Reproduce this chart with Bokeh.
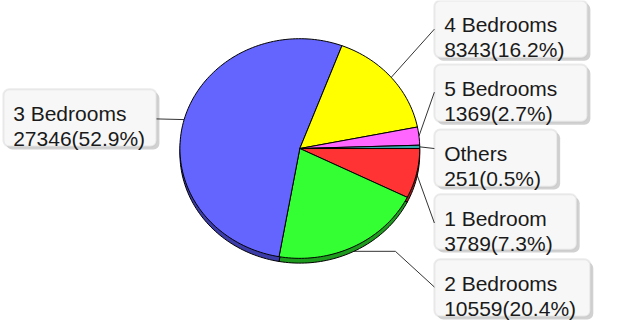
import numpy as np
from bokeh.plotting import figure
from bokeh.models import Range1d, BoxAnnotation
from bokeh.core.properties import value
from bokeh.embed import file_html
from bokeh.resources import INLINE

# ---- data ----
categories = ["1 Bedroom", "2 Bedrooms", "3 Bedrooms", "4 Bedrooms", "5 Bedrooms", "Others"]
counts = [3789, 10559, 27346, 8343, 1369, 251]

# ---- styles ----
top_colors = ["#FF3333", "#33FF33", "#6464FF", "#FFFF00", "#FF66FF", "#33AAAA"]
side_colors = ["#A01E1E", "#1E9A1E", "#3C3CA8", "#A0A000", "#A040A0", "#1E6A6A"]

# ---- layout (chart coordinates, y downward) ----
W, H = 603, 320
X0, Y0, XSCALE, YSCALE = 10, 7, 0.975, 0.955
CX, CY, RX, RY, DEPTH = 317, 162, 123, 115, 5
box_left = [455, 455, 13, 455, 455, 455]
box_top = [210, 278, 100, 7, 74, 142]
box_w = [146, 160, 157, 157, 157, 126]
box_h = [58, 60, 60, 60, 60, 60]
anchor_x = [455, 455, 170, 455, 455, 455]
anchor_y = [240, 307, 131, 37, 103, 162]
elbow_x = [None, 415, None, None, None, None]

total = float(sum(counts))
fracs = [c / total for c in counts]
cum = np.concatenate([[0.0], np.cumsum(fracs)])

p = figure(width=W, height=H, output_backend="svg", toolbar_location=None,
           x_range=Range1d(X0, X0 + W / XSCALE), y_range=Range1d(Y0 + H / YSCALE, Y0),
           min_border=0)
p.axis.visible = False
p.grid.visible = False
p.outline_line_color = None
p.background_fill_color = "white"
p.border_fill_color = "white"


def edge(theta, dy=0.0):
    return CX + RX * np.cos(theta), CY - RY * np.sin(theta) + dy


# leader lines (behind pie)
for i in range(len(counts)):
    mid = -2 * np.pi * (cum[i] + cum[i + 1]) / 2
    sx, sy = edge(mid)
    if np.sin(mid) < -0.5:
        sy += DEPTH
    xs, ys = [sx], [sy]
    if elbow_x[i] is not None:
        xs.append(elbow_x[i]); ys.append(sy)
    xs.append(anchor_x[i]); ys.append(anchor_y[i])
    p.line(xs, ys, line_color="#333333", line_width=1)

# pie side (depth) and top
side_xs, side_ys, top_xs, top_ys = [], [], [], []
for i in range(len(counts)):
    a0 = -2 * np.pi * cum[i]
    a1 = -2 * np.pi * cum[i + 1]
    n = max(4, int(abs(a1 - a0) / (2 * np.pi) * 240))
    th = np.linspace(a0, a1, n)
    ex, ey = edge(th)
    top_xs.append([CX] + list(ex))
    top_ys.append([CY] + list(ey))
    side_xs.append([CX] + list(ex))
    side_ys.append([CY + DEPTH] + list(ey + DEPTH))

p.patches(side_xs, side_ys, fill_color=side_colors, line_color="black", line_width=1)
p.patches(top_xs, top_ys, fill_color=top_colors, line_color="black", line_width=1)

# label boxes
for i in range(len(counts)):
    l, t, w, h = box_left[i], box_top[i], box_w[i], box_h[i]
    shadow = BoxAnnotation(left=l + 3, right=l + w + 3, top=t + 3, bottom=t + h + 3,
                           fill_color="#9a9a9a", fill_alpha=0.45, line_color=None,
                           border_radius=6, level="underlay", editable=False)
    box = BoxAnnotation(left=l, right=l + w, top=t, bottom=t + h,
                        fill_color="#F7F7F7", fill_alpha=1.0, line_color="#C0C0C0",
                        line_width=2, border_radius=6, level="underlay", editable=False)
    p.add_layout(shadow)
    p.add_layout(box)

line1 = categories
line2 = ["%d(%.1f%%)" % (c, f * 100) for c, f in zip(counts, fracs)]
tx = [l + 10 for l in box_left]
ty1 = [t + 25 for t in box_top]
ty2 = [t + 51 for t in box_top]

p.text(x=tx, y=ty1, text=line1, text_font=value("Liberation Sans"),
       text_font_size="21px", text_color="#1a1a1a", text_baseline="alphabetic")
p.text(x=tx, y=ty2, text=line2, text_font=value("Liberation Sans"),
       text_font_size="21px", text_color="#1a1a1a", text_baseline="alphabetic")

open("out.html", "w").write(file_html(p, INLINE))
